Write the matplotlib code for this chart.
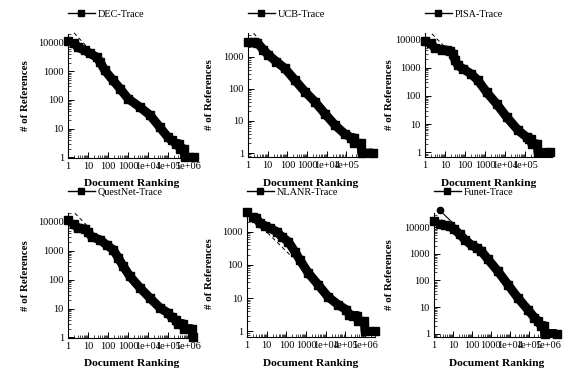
import matplotlib
matplotlib.use('Agg')
import matplotlib.pyplot as plt
from matplotlib.lines import Line2D
from matplotlib.ticker import FixedLocator, LogLocator, NullFormatter

plt.rcParams['font.family'] = ['Liberation Serif', 'DejaVu Serif']

# ---- data ----
dec_rank = [1, 2, 3, 7, 12, 27, 40, 70, 180, 400, 1000, 4000, 13000, 40000,
            100000, 150000, 250000, 350000, 400000, 600000, 700000, 2000000]
dec_refs = [11200, 10000, 6900, 5400, 4300, 3100, 2100, 1070, 480, 250, 112, 56, 29, 11,
            5, 4, 3, 3, 2, 2, 1, 1]
dec_fit_rank = [2, 12]
dec_fit_refs = [22000, 5700]

ucb_rank = [1, 2, 3, 6, 11, 28, 75, 240, 780, 2500, 8000, 26000, 80000,
            180000, 230000, 250000, 550000, 600000, 2200000]
ucb_refs = [3000, 2900, 2800, 1650, 1150, 710, 440, 190, 83, 40, 17, 7.5, 4,
            3, 3, 2, 2, 1, 1]
ucb_fit_rank = [1.9, 900000]
ucb_fit_refs = [5500, 1.0]

pisa_rank = [1, 2, 3, 7, 12, 18, 25, 32, 45, 80, 200, 450, 1200, 3800, 12000, 46000,
             120000, 150000, 200000, 220000, 400000, 450000, 1800000]
pisa_refs = [8500, 7300, 4900, 4300, 4100, 3800, 3100, 1780, 1180, 900, 600, 350, 135, 52, 18, 6,
             3.5, 3, 3, 2, 2, 1, 1]
pisa_fit_rank = [2.2, 10]
pisa_fit_refs = [15500, 5300]

quest_rank = [1, 2, 3, 7, 10, 15, 40, 85, 185, 330, 580, 1250, 4000, 12500, 40000,
              100000, 150000, 250000, 300000, 550000, 650000, 1500000, 1800000]
quest_refs = [11700, 8300, 6300, 5700, 4600, 3100, 2400, 1600, 1080, 560, 290, 130, 52, 23, 10.5,
              7, 5, 4, 3, 3, 2, 2, 1]
quest_fit_rank = [2.2, 10]
quest_fit_refs = [20000, 6900]

nlanr_rank = [1, 2, 3, 4.5, 8, 15, 32, 58, 125, 270, 490, 1300, 4200, 13000, 43000,
              110000, 160000, 240000, 400000, 450000, 900000, 1000000, 3000000]
nlanr_refs = [4000, 2800, 2500, 1800, 1500, 1260, 1000, 710, 500, 250, 140, 57, 25, 11, 6.3,
              4.5, 3.2, 3, 3, 2, 2, 1, 1]
nlanr_fit_rank = [2, 200]
nlanr_fit_refs = [2500, 170]

funet_rank = [1, 2, 3.8, 7, 12, 23, 42, 100, 180, 320, 720, 2400, 8000, 27000, 90000,
              200000, 300000, 450000, 650000, 700000, 3000000]
funet_refs = [18000, 13800, 12000, 11000, 8400, 5500, 3500, 2100, 1700, 1260, 620, 220, 70, 22, 8,
              4, 3, 2, 2, 1, 1]
funet_fit_rank = [2, 12]
funet_fit_refs = [44000, 13000]

names = ['DEC-Trace', 'UCB-Trace', 'PISA-Trace', 'QuestNet-Trace', 'NLANR-Trace', 'Funet-Trace']
x_tick_vals = [1, 10, 100, 1000, 1e4, 1e5, 1e6]
x_tick_text = ['1', '10', '100', '1000', '1e+04', '1e+05', '1e+06']
y_tick_vals = [1, 10, 100, 1000, 10000]
y_tick_text = ['1', '10', '100', '1000', '10000']

W, H = 563, 370
fig = plt.figure(figsize=(W / 100, H / 100), dpi=100)

# (left, top, right, bottom) in pixels
boxes = [(68, 34, 195, 158), (248, 33, 373, 157), (425, 33, 552, 157),
         (68, 213, 195, 338), (247, 210, 375, 337), (434, 213, 559, 337)]
xmax = [10**6.35, 10**6.35, 10**6.35, 10**6.35, 10**6.5, 10**6.6]
ylims = [(0.95, 20000), (0.75, 5600), (0.69, 16600), (0.95, 20400), (0.68, 4470), (0.74, 35000)]
n_xlab = [7, 6, 6, 7, 7, 7]
ylab_x = [25, 210, 389, 25, 209, 389]
legend_y = [14, 14, 14, 192, 192, 192]
xlab_y = [183, 183, 183, 363, 363, 363]

series = [(dec_rank, dec_refs, dec_fit_rank, dec_fit_refs),
          (ucb_rank, ucb_refs, ucb_fit_rank, ucb_fit_refs),
          (pisa_rank, pisa_refs, pisa_fit_rank, pisa_fit_refs),
          (quest_rank, quest_refs, quest_fit_rank, quest_fit_refs),
          (nlanr_rank, nlanr_refs, nlanr_fit_rank, nlanr_fit_refs),
          (funet_rank, funet_refs, funet_fit_rank, funet_fit_refs)]

for i, (rank, refs, frank, frefs) in enumerate(series):
    l, t, r, b = boxes[i]
    ax = fig.add_axes([l / W, 1 - b / H, (r - l) / W, (b - t) / H])
    ax.set_xscale('log')
    ax.set_yscale('log')
    ax.set_xlim(1, xmax[i])

    # fit line under the data
    if i == 5:
        ax.plot(frank, frefs, color='k', lw=0.8, marker='o', ms=4.5, markevery=[0], clip_on=False)
    else:
        ax.plot(frank, frefs, color='k', lw=0.7, ls=(0, (4, 3)), clip_on=False)

    # the dense squares look like a thick band
    dense = [k for k in range(len(rank)) if rank[k] >= 2]
    ax.plot([rank[k] for k in dense], [refs[k] for k in dense], color='k', lw=6.5,
            solid_capstyle='butt', solid_joinstyle='round', clip_on=False)
    ax.plot(rank, refs, color='k', lw=1, marker='s', ms=6, clip_on=False)

    for side in ['top', 'right']:
        ax.spines[side].set_visible(False)
    for side in ['left', 'bottom']:
        ax.spines[side].set_linewidth(0.8)

    ax.xaxis.set_major_locator(FixedLocator(x_tick_vals))
    ax.set_xticklabels(x_tick_text[:n_xlab[i]] + [''] * (7 - n_xlab[i]))
    ax.yaxis.set_major_locator(FixedLocator(y_tick_vals))
    ax.set_yticklabels(y_tick_text)
    ax.xaxis.set_minor_locator(LogLocator(base=10, subs=range(2, 10), numticks=20))
    ax.yaxis.set_minor_locator(LogLocator(base=10, subs=range(2, 10), numticks=20))
    ax.xaxis.set_minor_formatter(NullFormatter())
    ax.yaxis.set_minor_formatter(NullFormatter())
    ax.tick_params(which='major', direction='in', length=4, width=0.7, labelsize=7.5, pad=3)
    ax.tick_params(which='minor', direction='in', length=2, width=0.5)
    ax.set_ylim(*ylims[i])

    fig.text(ylab_x[i] / W, 1 - (t + b) / 2 / H, '# of References', rotation=90,
             ha='center', va='center', fontsize=7.8, fontweight='bold')
    fig.text((l + r) / 2 / W, 1 - xlab_y[i] / H, 'Document Ranking',
             ha='center', va='center', fontsize=8.2, fontweight='bold')

    h = Line2D([], [], color='k', lw=1, marker='s', ms=5)
    ax.legend([h], [names[i]], loc='center left', bbox_to_anchor=(l / W, 1 - legend_y[i] / H),
              bbox_transform=fig.transFigure, frameon=False, fontsize=7.4,
              handlelength=2.6, handletextpad=0.3, borderpad=0, borderaxespad=0)

fig.savefig('out.png', dpi=100)
